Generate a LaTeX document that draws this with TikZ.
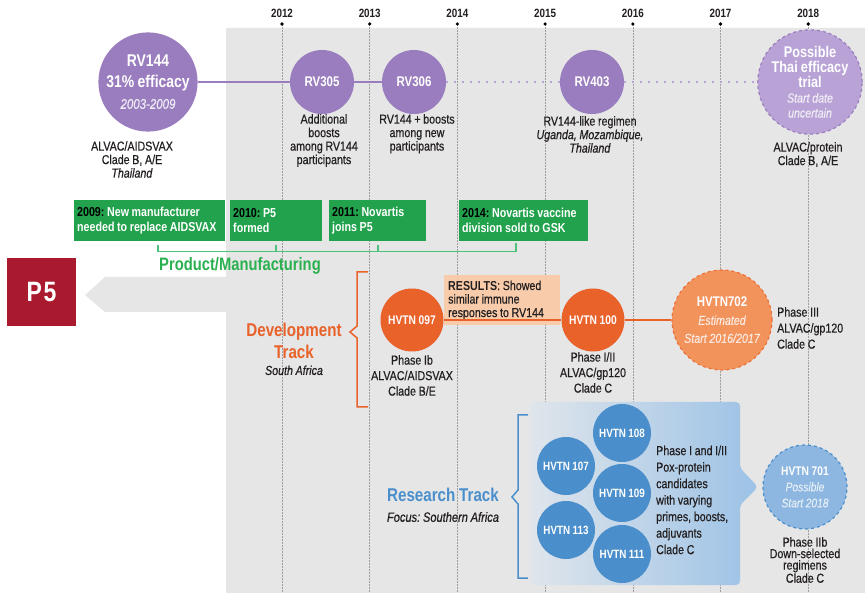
\documentclass[tikz,border=0pt]{standalone}
\usepackage{fontspec}
\setmainfont{Liberation Sans}[FakeStretch=0.82, WordSpace=0.9,
  UprightFeatures={FakeBold=0.5}, ItalicFeatures={FakeBold=0.5}]
\usetikzlibrary{positioning,calc}
\definecolor{grape}{HTML}{9A7DBE}
\definecolor{grapelt}{HTML}{B9A3D6}
\definecolor{rust}{HTML}{E8622A}
\definecolor{rustlt}{HTML}{F2935C}
\definecolor{peach}{HTML}{F8CBAA}
\definecolor{leaf}{HTML}{23A24D}
\definecolor{leaflt}{HTML}{4CC27A}
\definecolor{leaftxt}{HTML}{2BB04F}
\definecolor{sky}{HTML}{4A8FCC}
\definecolor{skylt}{HTML}{8DB6E0}
\definecolor{skyfaint}{HTML}{DFE5EB}
\definecolor{skymid}{HTML}{9CC2E6}
\definecolor{brick}{HTML}{AA1A2E}
\definecolor{paper}{HTML}{E6E6E6}
\definecolor{ink}{HTML}{231F20}
\newcommand{\fsz}[2]{\fontsize{#1}{#2}\selectfont}
\newcommand{\boxyear}[1]{{\color{black}#1}}
\newcommand{\subit}[1]{\fsz{13}{14}\mdseries\itshape\color{white!85!#1}}

\begin{document}
\frenchspacing
\begin{tikzpicture}[x=1pt, y=-1pt,
  trial/.style={circle, inner sep=0pt, align=center, text=white, font=\bfseries},
  rvdot/.style={trial, fill=grape, minimum size=64pt, font=\bfseries\fsz{14}{14}},
  hvdot/.style={trial, fill=rust, minimum size=63pt, font=\bfseries\fsz{12.5}{12.5}},
  bluedot/.style={trial, fill=sky, minimum size=58pt, font=\bfseries\fsz{12}{12}},
  desc/.style={align=center, text=ink, inner sep=0pt, font=\fsz{13}{13.5}},
  milestone/.style={fill=leaf, text=white, align=flush left, anchor=north west, inner sep=3pt, minimum height=41pt, font=\bfseries\fsz{13}{15}},
  yearline/.style={gray!75, line width=0.5pt, densely dotted},
  pmline/.style={draw=leaflt, line width=1.6pt},
  track/.style={font=\bfseries\fsz{18.5}{22}, align=center}]

  \useasboundingbox (0,0) rectangle (865,593);
  % background with the arrow pointing to P5
  \fill[paper] (85,295) -- (105,277) -- (226,277) -- (226,28) -- (865,28) -- (865,593)
    -- (226,593) -- (226,312) -- (105,312) -- cycle;

  % years
  \foreach \yy [count=\i from 0] in {2012,...,2018}{
    \draw[yearline] (282+87.7*\i,24) -- (282+87.7*\i,593);
    \fill (282+87.7*\i,24) circle[radius=1.8pt];
    \node[font=\bfseries\fsz{12}{12}, text=ink] (yr\i) at (282+87.7*\i,13) {\yy};
  }

  % RV trials
  \node[trial, fill=grape, minimum size=96pt, font=\bfseries\fsz{17}{21}] (rv144) at (148,82)
    {RV144\\31\% efficacy\\\subit{grape}\fsz{14}{20}2003-2009};
  \node[rvdot] (rv305) at (322,82) {RV305};
  \node[rvdot] (rv306) at (414,82) {RV306};
  \node[rvdot] (rv403) at (592,82) {RV403};
  \node[trial, fill=grapelt, draw=grape, dashed, line width=1.2pt, minimum size=102pt, font=\bfseries\fsz{15.5}{15}] (thai) at (810,82)
    {Possible\\Thai efficacy\\trial\\\subit{grape}Start date\\\subit{grape}uncertain};
  \draw[grape, line width=2pt] (rv144) -- (rv305) -- (rv306);
  \draw[grapelt, line width=2pt, dash pattern=on 2pt off 6pt] (rv306) -- (rv403) -- (thai);

  \node[desc, anchor=north] (rv144d) at (132,141) {ALVAC/AIDSVAX\\Clade B, A/E\\\textit{Thailand}};
  \node[desc, anchor=north] (rv305d) at (324,114) {Additional\\boosts\\among RV144\\participants};
  \node[desc, anchor=north] (rv306d) at (417,114) {RV144 + boosts\\among new\\participants};
  \node[desc, anchor=north] (rv403d) at (590,116) {RV144-like regimen\\\textit{Uganda, Mozambique,}\\\textit{Thailand}};
  \node[desc, anchor=north] (thaid) at (808,142) {ALVAC/protein\\Clade B, A/E};

  % product / manufacturing
  \node[milestone, minimum width=151pt, text width=145pt] (gb1) at (74,200)
    {\boxyear{2009:} New manufacturer\\needed to replace AIDSVAX};
  \node[milestone, minimum width=92pt, text width=86pt] (gb2) at (230,200)
    {\boxyear{2010:} P5\\formed};
  \node[milestone, minimum width=97pt, text width=91pt] (gb3) at (329,200)
    {\boxyear{2011:} Novartis\\joins P5};
  \node[milestone, minimum width=129pt, text width=123pt] (gb4) at (459,200)
    {\boxyear{2014:} Novartis vaccine\\division sold to GSK};
  \draw[pmline] ([shift={(8,4)}]gb1.south) |- ([shift={(-8,10)}]gb4.south) -- ([shift={(-8,2)}]gb4.south);
  \draw[pmline] ([shift={(0,4)}]gb2.south) -- ++(0,6);
  \draw[pmline] ([shift={(0,4)}]gb3.south) -- ++(0,6);
  \node[font=\bfseries\fsz{18}{18}, text=leaftxt] (pmlabel) at (240,266) {Product/Manufacturing};

  \node[fill=brick, minimum width=69pt, minimum height=68pt, text=white, font=\bfseries\fsz{28}{28}] (p5) at (41.5,292) {P\kern1.5pt5};

  % development track
  \node[track, text=rust] (devlabel) at (294,341) {Development\\Track};
  \node[desc, below=3pt of devlabel, font=\itshape\fsz{13}{13}] (devsub) {South Africa};
  \draw[rust, line width=1.5pt] (368,272) -- (357,272) -- (357,326) -- (350,332) -- (357,338) -- (357,407) -- (368,407);
  \node[fill=peach, anchor=north west, minimum width=116pt, minimum height=50pt, text width=108pt, inner sep=4pt,
    align=flush left, text=ink, font=\fsz{13}{13.5}] (res) at (444,275)
    {\textbf{RESULTS}: Showed\\similar immune\\responses to RV144};
  \node[hvdot] (h097) at (412,320) {HVTN 097};
  \node[hvdot] (h100) at (593,320) {HVTN 100};
  \node[trial, fill=rustlt, draw=rust!70!rustlt, dashed, line width=1.2pt, minimum size=100pt, font=\bfseries\fsz{14}{18}] (h702) at (722,320)
    {HVTN702\\\subit{rust}Estimated\\\subit{rust}Start 2016/2017};
  \draw[rust, line width=2pt] (h097) -- (h100) -- (h702);
  \node[desc, anchor=north, font=\fsz{13}{15.5}] (h097d) at (412,355) {Phase Ib\\ALVAC/AIDSVAX\\Clade B/E};
  \node[desc, anchor=north, font=\fsz{13}{15.5}] (h100d) at (593,352) {Phase I/II\\ALVAC/gp120\\Clade C};
  \node[desc, anchor=west, align=left, font=\fsz{13}{16}] (h702d) at (777,328) {Phase III\\ALVAC/gp120\\Clade C};

  % research track
  \shade[left color=skyfaint, right color=skymid, rounded corners=4pt]
    (530,402) -- (740,402) -- (740,468) -- (758,487) -- (740,505) -- (740,585) -- (530,585) -- cycle;
  \draw[sky, line width=1.5pt] (528,415) -- (518,415) -- (518,490) -- (512,497) -- (518,504) -- (518,578) -- (528,578);
  \node[font=\bfseries\fsz{18.5}{18.5}, text=sky] (reslabel) at (443,495) {Research Track};
  \node[desc, font=\itshape\fsz{13.5}{13.5}] (ressub) at (443,517) {Focus: Southern Africa};
  \node[bluedot] (h107) at (566,466) {HVTN 107};
  \node[bluedot] (h108) at (622,433) {HVTN 108};
  \node[bluedot] (h109) at (622,493) {HVTN 109};
  \node[bluedot] (h113) at (566,530) {HVTN 113};
  \node[bluedot] (h111) at (622,554) {HVTN 111};
  \node[desc, anchor=west, align=left, font=\fsz{13}{16.5}] (poxd) at (656,500)
    {Phase I and I/II\\Pox-protein\\candidates\\with varying\\primes, boosts,\\adjuvants\\Clade C};
  \node[trial, fill=skylt, draw=sky, dashed, line width=1.2pt, minimum size=84pt, font=\bfseries\fsz{12.5}{16}] (h701) at (805,487)
    {HVTN 701\\\subit{sky}\fsz{12.5}{14}Possible\\\subit{sky}\fsz{12.5}{14}Start 2018};
  \node[desc, anchor=north, font=\fsz{13}{11.5}] (h701d) at (805,537) {Phase IIb\\Down-selected\\regimens\\Clade C};
\end{tikzpicture}
\end{document}
